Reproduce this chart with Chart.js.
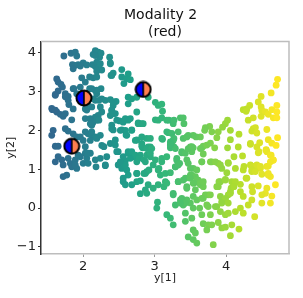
<!DOCTYPE html>
<html>
<head>
<meta charset="utf-8">
<script src="https://cdn.jsdelivr.net/npm/chart.js@4"></script>
<style>
body { margin: 0; background: #fff; }
canvas { display: block; }
</style>
</head>
<body>
<canvas id="myChart" width="303" height="298"></canvas>
<script>
const xValues = [
1.73,1.83,1.89,1.91,1.85,1.89,1.93,2.00,1.86,1.98,2.09,2.14,2.19,2.17,2.21,2.14,2.23,2.25,2.13,2.17,
2.21,2.26,2.19,2.37,2.38,2.54,2.39,2.42,2.54,2.63,2.61,2.66,2.57,1.63,1.65,1.69,1.71,1.65,1.61,1.75,
1.79,1.79,1.86,1.91,2.03,2.09,2.17,2.25,2.19,2.14,2.17,2.26,2.31,2.38,2.46,2.42,2.40,2.38,2.45,2.06,
2.03,2.12,2.26,2.21,2.17,2.19,2.14,2.12,2.03,2.10,1.86,1.57,1.63,1.68,1.72,1.84,1.58,1.56,1.75,1.79,
1.86,1.91,2.00,2.07,2.12,2.17,2.24,2.10,2.26,2.40,2.42,2.51,2.56,2.63,2.66,2.54,2.59,2.68,2.61,2.75,
2.77,2.82,3.01,3.05,2.73,2.82,2.89,2.94,2.83,2.94,2.63,2.68,2.75,2.91,3.01,3.05,2.63,2.91,1.61,
4.72,4.70,4.63,4.49,4.45,4.49,4.50,4.55,4.59,4.64,4.71,4.71,4.66,4.71,4.33,4.29,4.24,4.28,4.31,4.38,
4.49,4.02,3.99,3.95,3.89,3.87,3.80,3.77,3.71,3.70,4.06,4.18,4.06,3.78,3.68,3.66,4.38,4.41,4.36,4.43,
4.57,4.72,4.59,4.64,4.70,4.47,4.43,4.34,4.17,4.02,3.84,4.56,3.64,3.58,3.54,3.47,3.40,3.45,3.36,3.40,
3.41,3.33,3.19,3.24,3.11,3.27,3.22,3.26,3.10,3.11,3.10,3.17,3.26,3.50,3.54,
3.38,3.52,3.68,3.66,3.80,3.89,3.94,4.03,4.11,4.23,4.45,4.57,4.63,4.66,4.59,4.34,4.41,4.48,4.36,4.24,
4.13,4.01,3.99,4.08,3.92,3.89,4.20,4.28,4.59,4.62,4.69,4.45,4.36,4.57,4.55,4.64,4.50,4.37,4.36,4.31,
4.50,4.62,4.40,4.20,4.24,4.06,4.07,4.03,3.99,3.94,3.87,3.92,3.99,4.03,4.13,4.20,4.24,3.78,3.54,3.57,
3.68,3.75,3.80,3.73,3.89,3.94,3.99,4.08,4.18,4.06,3.47,3.54,3.59,3.82,3.43,3.22,3.26,3.17,3.29,3.43,
3.52,3.66,3.75,3.63,3.54,3.50,3.45,3.38,3.68,3.75,3.26,3.13,3.33,3.43,3.50,3.54,3.61,3.64,3.68,3.57,
3.45,3.22,3.31,3.29,3.10,3.54,3.59,3.15,3.36,3.40,
1.61,1.65,1.70,1.72,1.79,1.82,1.89,1.93,1.91,2.00,2.05,2.10,2.17,2.24,2.33,2.31,2.18,1.72,1.77,2.03,
1.84,2.49,2.49,2.54,2.61,2.63,2.59,2.63,2.70,2.75,2.80,2.87,2.94,3.01,3.05,2.75,2.87,2.89,2.56,2.59,
2.68,2.75,2.80,2.80,2.87,2.91,2.98,2.89,3.05,3.04,3.03
];
const yValues = [
3.91,3.98,4.01,3.91,3.69,3.67,3.69,3.73,3.58,3.35,3.37,3.35,3.37,4.05,4.01,3.95,3.88,3.98,3.69,3.64,
3.58,3.55,3.52,3.88,3.73,3.56,3.41,3.47,3.37,3.45,3.32,3.30,3.20,3.32,3.24,3.18,3.11,3.01,2.90,2.94,
2.87,2.77,3.07,2.94,3.24,3.07,3.02,3.07,2.94,2.81,2.77,2.81,2.77,2.79,2.74,2.64,2.51,2.38,2.43,2.68,
2.55,2.60,2.47,2.38,2.34,2.26,2.21,2.13,2.30,2.30,2.55,2.53,2.47,2.41,2.36,2.27,2.00,1.87,2.04,1.98,
1.91,1.83,1.74,1.91,1.87,1.83,1.87,1.74,1.61,2.04,2.01,2.24,2.21,2.26,2.30,2.01,2.00,2.01,1.87,2.47,
2.19,2.17,2.27,2.26,1.74,1.66,1.79,1.79,1.55,1.57,2.85,2.81,2.85,2.85,2.72,2.64,2.68,1.57,1.59,
3.31,3.16,2.96,2.87,2.73,2.60,2.51,2.47,2.41,2.53,2.64,2.47,2.32,2.32,2.64,2.55,2.53,2.49,2.26,2.32,
2.36,2.26,2.17,2.08,1.96,1.81,1.96,2.10,2.07,2.00,2.00,1.90,1.76,1.67,1.59,1.55,2.04,2.07,1.98,1.93,
2.02,1.81,1.76,1.67,1.61,1.68,1.57,1.64,1.57,1.55,1.55,1.50,1.83,1.83,1.87,1.87,1.79,1.83,2.32,2.32,
2.17,1.96,1.94,1.70,1.77,1.57,1.55,1.74,2.67,2.49,2.32,2.26,2.17,1.57,1.55,
1.42,1.45,1.39,1.19,1.19,1.15,1.02,1.17,1.32,1.34,1.42,1.45,1.36,1.23,1.08,1.11,1.06,1.02,0.94,0.98,
1.02,0.91,0.74,0.68,0.68,0.55,0.61,0.77,0.89,0.81,0.60,0.57,0.55,0.51,0.38,0.31,0.34,0.42,0.21,0.08,
0.13,0.13,-0.22,0.42,0.30,0.42,0.51,0.34,0.21,0.17,0.04,-0.09,-0.17,-0.13,-0.09,0.00,-0.13,-0.17,-0.56,-0.64,
-0.40,-0.43,-0.43,-0.56,-0.37,-0.51,-0.49,-0.43,-0.54,-0.71,-0.74,-0.81,-0.90,-0.94,-0.34,-0.26,-0.43,-0.17,0.08,-0.13,
-0.26,-0.17,0.04,0.00,0.00,0.13,0.21,0.17,0.25,0.34,0.38,0.55,0.68,0.77,0.85,0.64,0.72,0.60,0.55,0.47,
0.55,0.91,1.23,1.06,1.19,1.02,0.98,0.68,0.21,0.08,
1.19,1.32,1.24,1.11,1.28,1.15,1.24,1.36,1.02,1.15,1.28,1.41,1.24,1.28,1.32,1.09,1.06,0.81,0.85,1.41,
1.06,1.45,1.11,1.02,0.98,0.85,1.22,1.41,1.32,1.19,1.36,1.19,1.32,1.24,0.98,0.89,0.89,0.94,0.68,0.60,
0.60,0.68,0.70,0.37,0.47,0.60,0.51,0.38,0.60,0.15,0.00
];
// second reading of the crowded parts of the cloud
const denseX = [
1.80,1.75,1.61,2.05,2.42,2.40,2.42,2.24,2.22,2.19,2.12,1.96,1.87,2.05,1.96,2.19,2.17,2.24,2.38,1.56,1.61,1.75,2.40,
2.10,2.22,1.96,2.03,2.12,2.19,2.03,2.07,2.29,2.40,2.38,2.31,1.65,1.96,2.07,1.89,
2.47,2.59,2.77,2.84,3.20,3.27,2.52,2.60,2.68,2.45,2.45,2.47,2.75,2.82,2.82,2.89,2.96,2.63,2.68,2.73,2.78,2.85,2.89,2.94,2.56,2.59,2.52,2.66,2.98,2.92,2.85,2.75,3.08,3.15,3.17,3.24,3.27,3.22,3.22,3.29,3.10,3.10,3.35,3.29,2.56,3.06,
3.22,3.38,3.43,3.47,3.52,3.64,3.73,3.17,3.31,3.33,3.45,3.47,3.50,3.66,3.78,3.85,3.92,4.03,3.52,3.57,3.50,3.59,3.55,3.64,3.68,3.33,3.40,3.45,3.90,3.87,3.99,4.13,4.11,3.92,3.99,4.06,3.17,3.26,3.38,3.43,3.36,3.54,3.59,3.71,3.78,3.66,3.94,4.03,3.85,3.73,
4.34,4.46,4.56,4.62,4.66,4.62,4.57,4.38,4.43,4.36,4.41,4.48,4.50,4.59,4.29,4.25
];
const denseY = [
2.66,2.86,2.92,2.52,2.73,2.52,2.43,2.60,2.77,3.03,3.07,3.11,3.07,3.68,3.65,3.75,3.92,3.71,3.71,2.56,2.52,2.43,3.41,
2.17,2.26,1.83,1.96,1.96,1.79,1.58,1.41,1.58,2.13,1.66,1.11,1.59,1.32,1.15,1.11,
2.26,2.30,2.17,2.17,2.26,2.26,2.00,1.88,2.00,1.75,1.62,1.45,1.75,1.83,1.59,1.53,1.53,1.45,1.45,1.36,1.28,1.24,1.36,1.41,1.32,1.11,1.19,1.28,1.11,0.98,0.89,0.89,0.85,0.89,1.96,1.92,1.79,1.70,1.62,1.53,1.79,1.28,1.15,1.06,0.77,1.02,
1.62,1.45,1.41,1.53,1.58,1.53,1.62,1.32,1.28,1.11,1.24,1.15,1.02,1.19,1.19,1.19,1.11,1.15,0.85,0.81,0.77,0.72,0.64,0.64,0.68,0.68,0.72,0.51,0.68,0.55,0.72,0.68,0.55,0.30,0.25,0.38,0.64,0.34,0.25,0.13,0.13,0.30,0.21,0.34,0.34,0.25,0.13,0.13,0.04,0.08,
1.66,1.45,1.49,1.36,1.24,1.19,1.07,1.07,1.11,0.98,0.94,1.07,0.87,0.85,0.77,1.07
];
const markerX = [2.01, 2.84, 1.84];
const markerY = [2.83, 3.05, 1.59];
const xTicks = [2, 3, 4];
const yTicks = [-1, 0, 1, 2, 3, 4];

const viridis = [[49,104,142],[38,130,142],[31,158,137],[53,183,121],[109,205,89],[180,222,44],[253,231,37]];
function colorFor(x) {
	let t = Math.min(1, Math.max(0, (x - 1.6) / 3.1)) * (viridis.length - 1);
	let i = Math.min(viridis.length - 2, Math.floor(t));
	let f = t - i;
	let c = viridis[i].map((v, k) => Math.round(v + (viridis[i + 1][k] - v) * f));
	return `rgb(${c[0]},${c[1]},${c[2]})`;
}

// half blue / half orange circle used as the point style of the 3 big markers
function makeMarker() {
	const c = document.createElement('canvas');
	c.width = 18; c.height = 18;
	const g = c.getContext('2d');
	g.fillStyle = '#0000ff';
	g.beginPath(); g.arc(9, 9, 7.5, Math.PI / 2, Math.PI * 1.5); g.fill();
	g.fillStyle = '#ff7f50';
	g.beginPath(); g.arc(9, 9, 7.5, -Math.PI / 2, Math.PI / 2); g.fill();
	g.strokeStyle = '#000';
	g.lineWidth = 2;
	g.beginPath(); g.arc(9, 9, 7.5, 0, Math.PI * 2); g.stroke();
	g.lineWidth = 1.6;
	g.beginPath(); g.moveTo(9, 1.5); g.lineTo(9, 16.5); g.stroke();
	return c;
}

const frame = {
	id: 'frame',
	afterDraw(chart) {
		const a = chart.chartArea, ctx = chart.ctx;
		ctx.save();
		ctx.strokeStyle = '#bdbdbd';
		ctx.lineWidth = 1.5;
		ctx.beginPath();
		ctx.moveTo(a.left, a.top); ctx.lineTo(a.right, a.top); ctx.lineTo(a.right, a.bottom);
		ctx.stroke();
		ctx.restore();
	}
};

const allX = xValues.concat(denseX);
const allY = yValues.concat(denseY);

new Chart(document.getElementById('myChart').getContext('2d'), {
	type: 'scatter',
	plugins: [frame],
	data: {
		datasets: [
			{
				data: markerX.map((x, i) => ({ x: x, y: markerY[i] })),
				pointStyle: makeMarker(),
				order: 0
			},
			{
				data: allX.map((x, i) => ({ x: x, y: allY[i] })),
				backgroundColor: allX.map(colorFor),
				borderWidth: 0,
				pointRadius: 3.4,
				order: 1
			}
		]
	},
	options: {
		responsive: false,
		animation: false,
		layout: { padding: { right: 14, top: 0, left: 0, bottom: 0 } },
		plugins: {
			legend: { display: false },
			tooltip: { enabled: false },
			title: {
				display: true,
				fullSize: false,
				text: ['Modality 2  ', '(red)'],
				color: '#111',
				font: { family: 'DejaVu Sans', size: 14, weight: 'normal', lineHeight: 1.2 },
				padding: { top: 7, bottom: 1 }
			}
		},
		scales: {
			x: {
				min: 1.41, max: 4.88,
				afterFit(s) { s.height = 44; },
				afterBuildTicks(s) { s.ticks = xTicks.map(v => ({ value: v })); },
				title: { display: true, text: 'y[1]', color: '#222', font: { family: 'DejaVu Sans', size: 11 }, padding: { top: 0, bottom: 13 } },
				ticks: { color: '#222', font: { family: 'DejaVu Sans', size: 13 }, padding: 2, maxRotation: 0 },
				grid: { drawOnChartArea: false, color: '#999', tickLength: 3 },
				border: { color: '#bdbdbd', width: 1.5 }
			},
			y: {
				min: -1.18, max: 4.28,
				afterFit(s) { s.width = 41; },
				afterBuildTicks(s) { s.ticks = yTicks.map(v => ({ value: v })); },
				title: { display: true, text: 'y[2]', color: '#222', font: { family: 'DejaVu Sans', size: 11 }, padding: { top: 5, bottom: 0 } },
				ticks: {
					color: '#222', font: { family: 'DejaVu Sans', size: 13 }, padding: 2,
					callback: v => String(v).replace('-', '\u2212')
				},
				grid: { drawOnChartArea: false, color: '#333', tickLength: 3 },
				border: { color: '#333', width: 1.5 }
			}
		}
	}
});
</script>
</body>
</html>
